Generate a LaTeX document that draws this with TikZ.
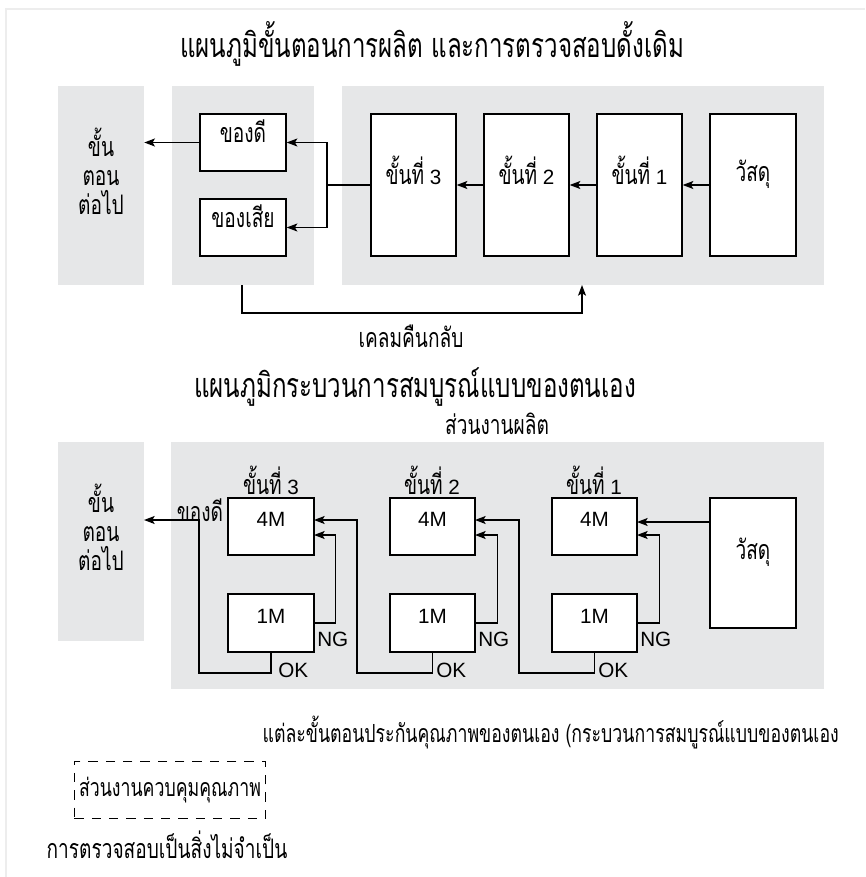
\documentclass[tikz,border=0pt]{standalone}
\usepackage{fontspec}
\setmainfont{Liberation Sans}
\newfontfamily\thai[Script=Thai,FakeStretch=0.71,Scale=1.3]{Loma}
\usetikzlibrary{arrows.meta,fit}
\definecolor{panel}{RGB}{230,231,232}
\newcommand{\bodyf}{\fontsize{15.5}{21.5}\selectfont}
\newcommand{\titlef}{\fontsize{19.6}{23}\selectfont}
\newcommand{\notef}{\fontsize{14.4}{18}\selectfont}
\tikzset{
  panelbox/.style={fill=panel,draw=none,inner sep=0pt},
  wbox/.style={fill=white,draw=black,line width=1pt,inner sep=0pt},
  conn/.style={draw=black,line width=1pt},
  arr/.style={conn,-{Stealth[length=8pt,width=6pt,inset=1.8pt]}},
  lbl/.style={inner sep=0pt,font=\bodyf},
}
\begin{document}
\begin{tikzpicture}[x=0.75pt,y=-0.75pt,font=\bodyf]
\useasboundingbox (0,0) rectangle (865,877);
\draw[black!7,line width=2pt] (6,877) -- (6,9) -- (865,9);

% ---------- top diagram ----------
\node[lbl,font=\titlef] (t1) at (432,44) {\thai แผนภูมิขั้นตอนการผลิต และการตรวจสอบดั้งเดิม};
\node[panelbox,fit={(58,86)(144,285)},align=center,font=\bodyf\thai] (gL) {ขั้น\\ตอน\\ต่อไป};
\node[panelbox,fit={(172,86)(314,285)}] (gM) {};
\node[panelbox,fit={(342,86)(824,285)}] (gR) {};
\node[wbox,fit={(200,114)(286,171)}] (good) {\thai ของดี};
\node[wbox,fit={(200,199)(286,256)}] (bad) {\thai ของเสีย};
\node[wbox,fit={(371,114)(456,256)}] (s3) {{\thai ขั้นที่} 3};
\node[wbox,fit={(484,114)(569,256)}] (s2) {{\thai ขั้นที่} 2};
\node[wbox,fit={(597,114)(682,256)}] (s1) {{\thai ขั้นที่} 1};
\node[wbox,fit={(710,114)(796,256)}] (mat) {\thai วัสดุ};
\draw[arr] (mat.west) -- (s1.east);
\draw[arr] (s1.west) -- (s2.east);
\draw[arr] (s2.west) -- (s3.east);
\coordinate (split) at (327,185);
\draw[conn] (s3.west) -- (split);
\draw[arr] (split) |- (good.east);
\draw[arr] (split) |- (bad.east);
\draw[arr] (good.west) -- (good.west -| gL.east);
\coordinate (fbL) at (242,313);
\coordinate (fbR) at (582,285);
\draw[arr] (gM.south -| fbL) -- (fbL) -| (fbR);
\node[lbl] (fbl) at (411,336) {\thai เคลมคืนกลับ};

% ---------- bottom diagram ----------
\node[lbl,font=\titlef] (t2) at (415,387) {\thai แผนภูมิกระบวนการสมบูรณ์แบบของตนเอง};
\node[lbl] (prod) at (497,424) {\thai ส่วนงานผลิต};
\node[panelbox,fit={(58,442)(144,641)},align=center,font=\bodyf\thai] (gL2) {ขั้น\\ตอน\\ต่อไป};
\node[panelbox,fit={(171,442)(824,689)}] (gB) {};

\node[lbl] (l3) at (271,480) {{\thai ขั้นที่} 3};
\node[lbl] (l2) at (432,480) {{\thai ขั้นที่} 2};
\node[lbl] (l1) at (594,480) {{\thai ขั้นที่} 1};

\node[wbox,fit={(228,498)(314,555)}] (a3) {4M};
\node[wbox,fit={(390,498)(475,555)}] (a2) {4M};
\node[wbox,fit={(552,498)(637,555)}] (a1) {4M};
\node[wbox,fit={(228,594)(314,652)}] (b3) {1M};
\node[wbox,fit={(390,594)(475,652)}] (b2) {1M};
\node[wbox,fit={(552,594)(637,652)}] (b1) {1M};
\node[wbox,fit={(710,498)(796,628)}] (mat2) {\thai วัสดุ};

% material to stage 1
\coordinate (in1) at (637,522);
\draw[arr] (mat2.west |- in1) -- (in1);
% NG loops
\coordinate (ng3) at (314,535);
\coordinate (ng2) at (475,535);
\coordinate (ng1) at (637,535);
\draw[arr] (b3.east) -- ++(21,0) |- (ng3);
\draw[arr] (b2.east) -- ++(22,0) |- (ng2);
\draw[arr] (b1.east) -- ++(22,0) |- (ng1);
% OK paths
\coordinate (ok3) at (199,673);
\coordinate (ok2) at (357,673);
\coordinate (ok1) at (519,673);
\coordinate (out3) at (144,520);
\coordinate (in3) at (314,520);
\coordinate (in2) at (475,520);
\draw[arr] (b3.south) |- (ok3) |- (out3);
\draw[arr] (b2.south) |- (ok2) |- (in3);
\draw[arr] (b1.south) |- (ok1) |- (in2);

\node[lbl] (goodl) at (200,510) {\thai ของดี};
\node[lbl,anchor=west] (ng3l) at (317,639) {NG};
\node[lbl,anchor=west] (ng2l) at (478,639) {NG};
\node[lbl,anchor=west] (ng1l) at (640,639) {NG};
\node[lbl,anchor=west] (ok3l) at (278,670) {OK};
\node[lbl,anchor=west] (ok2l) at (436,670) {OK};
\node[lbl,anchor=west] (ok1l) at (598,670) {OK};

% ---------- notes ----------
\node[lbl,anchor=east,font=\notef] (note) at (839,733) {\thai แต่ละขั้นตอนประกันคุณภาพของตนเอง (กระบวนการสมบูรณ์แบบของตนเอง};
\node[draw=black,line width=0.8pt,dash pattern=on 7pt off 6pt,inner xsep=3.5pt,minimum height=42.75pt,font=\notef] (qc) at (170,790) {\thai ส่วนงานควบคุมคุณภาพ};
\node[lbl] (cap) at (167,845) {\thai การตรวจสอบเป็นสิ่งไม่จำเป็น};
\end{tikzpicture}
\end{document}
